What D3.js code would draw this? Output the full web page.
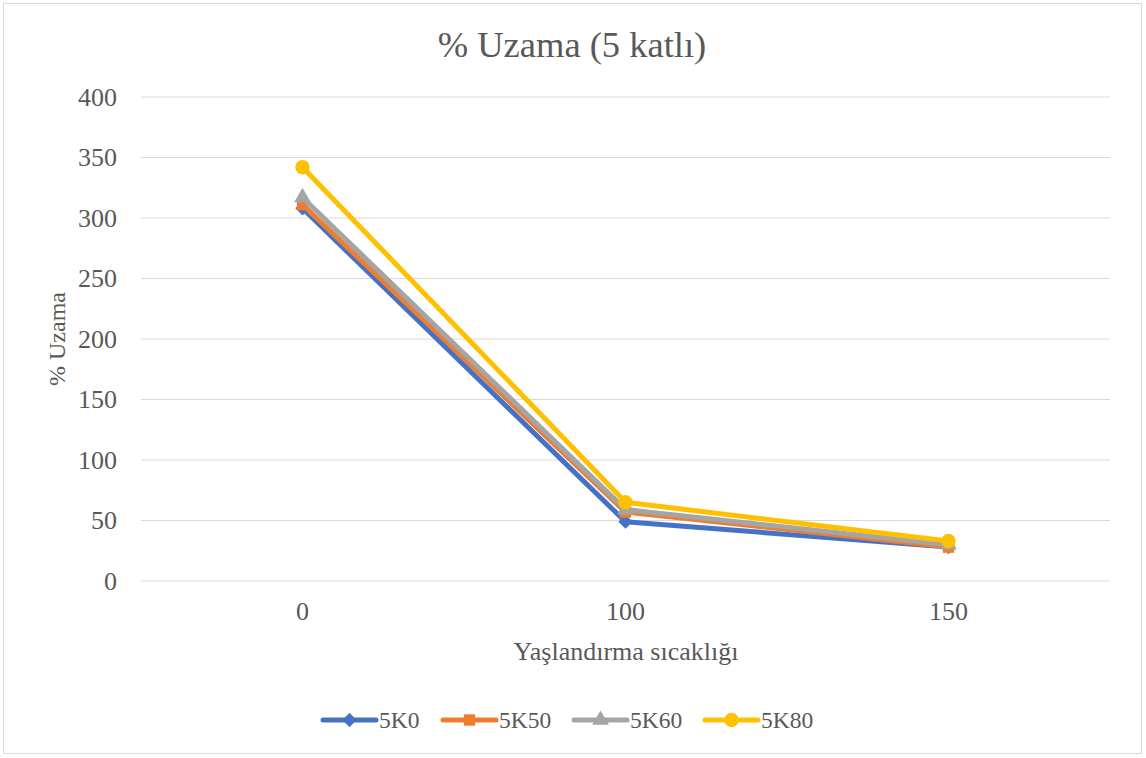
<!DOCTYPE html>
<html>
<head>
<meta charset="utf-8">
<script src="https://cdn.jsdelivr.net/npm/d3@7"></script>
<style>
  body { margin: 0; background: #fff; }
</style>
</head>
<body>
<svg width="1146" height="758"></svg>
<script>
const categories = ["0", "100", "150"];
const seriesNames = ["5K0", "5K50", "5K60", "5K80"];
const s5K0 = [308, 49, 28];
const s5K50 = [311, 57, 28];
const s5K60 = [317, 59, 30];
const s5K80 = [342, 65, 33];
const yTicks = [0, 50, 100, 150, 200, 250, 300, 350, 400];
const colors = ["#4472C4", "#ED7D31", "#A5A5A5", "#FFC000"];
const shapes = [d3.symbolDiamond2, d3.symbolSquare, d3.symbolTriangle, d3.symbolCircle];

const series = [s5K0, s5K50, s5K60, s5K80].map((vals, i) => ({
  name: seriesNames[i],
  color: colors[i],
  shape: shapes[i],
  values: vals.map((v, j) => ({ cat: categories[j], v }))
}));

const FONT = "'Liberation Serif'";
const textColor = "#595959";
const svg = d3.select("svg");

svg.append("rect")
  .attr("x", 3.5).attr("y", 3.5)
  .attr("width", 1138).attr("height", 750)
  .attr("fill", "#fff").attr("stroke", "#d9d9d9");

const margin = { top: 97, left: 141, right: 36, bottom: 177 };
const width = 1146 - margin.left - margin.right,
  height = 758 - margin.top - margin.bottom;

const g = svg.append("g").attr("transform", `translate(${margin.left},${margin.top})`);

const x = d3.scaleBand().domain(categories).range([0, width]);
const y = d3.scaleLinear().domain([0, 400]).range([height, 0]);

// gridlines
g.append("g")
  .selectAll("line")
  .data(yTicks)
  .join("line")
  .attr("x1", 0).attr("x2", width)
  .attr("y1", d => y(d)).attr("y2", d => y(d))
  .attr("stroke", "#d9d9d9").attr("stroke-width", 1);

const yAxis = g.append("g")
  .call(d3.axisLeft(y).tickValues(yTicks).tickSize(0).tickPadding(24));
yAxis.select(".domain").remove();
yAxis.selectAll("text")
  .style("font-family", FONT)
  .attr("font-size", 26).attr("fill", textColor);

const xAxis = g.append("g")
  .attr("transform", `translate(0,${height})`)
  .call(d3.axisBottom(x).tickSize(0).tickPadding(21));
xAxis.select(".domain").remove();
xAxis.selectAll("text")
  .style("font-family", FONT)
  .attr("font-size", 26).attr("fill", textColor);

svg.append("text")
  .attr("x", 572).attr("y", 57)
  .attr("text-anchor", "middle")
  .style("font-family", FONT)
  .attr("font-size", 36.5).attr("fill", textColor)
  .text("% Uzama (5 katlı)");

svg.append("text")
  .attr("x", 626).attr("y", 660)
  .attr("text-anchor", "middle")
  .style("font-family", FONT)
  .attr("font-size", 26).attr("fill", textColor)
  .text("Yaşlandırma sıcaklığı");

svg.append("text")
  .attr("transform", `translate(65,${margin.top + height / 2}) rotate(-90)`)
  .attr("text-anchor", "middle")
  .style("font-family", FONT)
  .attr("font-size", 24).attr("fill", textColor)
  .text("% Uzama");

const line = d3.line()
  .x(d => x(d.cat) + x.bandwidth() / 2)
  .y(d => y(d.v));

const symSize = { circle: 165, triangle: 120, other: 130 };
const sym = (shape) => d3.symbol().type(shape)
  .size(shape === d3.symbolCircle ? symSize.circle
    : shape === d3.symbolTriangle ? symSize.triangle : symSize.other);

series.forEach(s => {
  const sg = g.append("g");
  sg.append("path")
    .datum(s.values)
    .attr("d", line)
    .attr("fill", "none")
    .attr("stroke", s.color)
    .attr("stroke-width", 5)
    .attr("stroke-linejoin", "round")
    .attr("stroke-linecap", "round");
  sg.selectAll("path.m")
    .data(s.values)
    .join("path")
    .attr("class", "m")
    .attr("transform", d => `translate(${x(d.cat) + x.bandwidth() / 2},${y(d.v)})`)
    .attr("d", sym(s.shape)())
    .attr("fill", s.color);
});

// legend
const legendX = [323, 443, 574, 705];
const legend = svg.append("g").attr("transform", "translate(0,720)");
series.forEach((s, i) => {
  const lg = legend.append("g").attr("transform", `translate(${legendX[i]},0)`);
  lg.append("line")
    .attr("x1", 0).attr("x2", 53)
    .attr("stroke", s.color).attr("stroke-width", 5)
    .attr("stroke-linecap", "round");
  lg.append("path")
    .attr("transform", "translate(26.5,0)")
    .attr("d", sym(s.shape)())
    .attr("fill", s.color);
  lg.append("text")
    .attr("x", 56).attr("y", 8)
    .style("font-family", FONT)
    .attr("font-size", 23.5).attr("fill", textColor)
    .text(s.name);
});
</script>
</body>
</html>
